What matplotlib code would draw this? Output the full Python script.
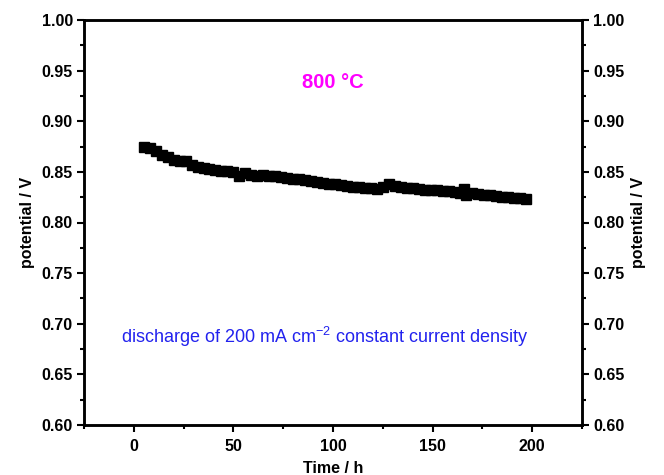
import matplotlib
matplotlib.use("Agg")
import matplotlib.pyplot as plt
from matplotlib.ticker import MultipleLocator

plt.rcParams['font.family'] = ['Liberation Sans', 'DejaVu Sans']

time_h = [5, 8, 11, 14, 17, 20, 23, 26, 29, 32, 35, 38, 41, 44, 47, 50, 53, 56, 59, 62,
          65, 68, 71, 74, 77, 80, 83, 86, 89, 92, 95, 98, 101, 104, 107, 110, 113, 116, 119, 122,
          125, 128, 131, 134, 137, 140, 143, 146, 149, 152, 155, 158, 161, 164, 166, 167, 170, 173, 176, 179,
          182, 185, 188, 191, 194, 197]
potential_v = [0.875, 0.874, 0.871, 0.867, 0.865, 0.862, 0.861, 0.861, 0.857, 0.855, 0.854, 0.853, 0.852, 0.851, 0.851, 0.850, 0.846, 0.849, 0.847, 0.846,
               0.847, 0.846, 0.846, 0.845, 0.844, 0.843, 0.843, 0.842, 0.841, 0.840, 0.839, 0.838, 0.838, 0.837, 0.836, 0.835, 0.835, 0.834, 0.834, 0.833,
               0.835, 0.838, 0.836, 0.835, 0.834, 0.834, 0.833, 0.832, 0.832, 0.832, 0.831, 0.831, 0.830, 0.829, 0.833, 0.827, 0.829, 0.828, 0.827, 0.827,
               0.826, 0.825, 0.825, 0.824, 0.824, 0.823]

x_ticks = [0, 50, 100, 150, 200]
y_ticks = [0.60, 0.65, 0.70, 0.75, 0.80, 0.85, 0.90, 0.95, 1.00]

fig = plt.figure(figsize=(6.64, 4.75), dpi=100)
ax = fig.add_axes([84/664, 1-425/475, (582-84)/664, (425-20)/475])

ax.plot(time_h, potential_v, color='black', lw=2.5, marker='s', ms=7, mec='black', mfc='black')

ax.set_xlim(-25, 225)
ax.set_ylim(0.60, 1.00)
ax.set_xticks(x_ticks)
ax.set_yticks(y_ticks)
ax.xaxis.set_minor_locator(MultipleLocator(25))
ax.yaxis.set_minor_locator(MultipleLocator(0.025))
ax.set_yticklabels([f"{v:.2f}" for v in y_ticks])

for s in ax.spines.values():
    s.set_linewidth(1.8)

ax.tick_params(which='major', direction='out', length=5, width=1.5, labelsize=11.5, pad=3,
               top=False, right=False)
ax.tick_params(axis='x', which='major', pad=5)
ax.tick_params(which='minor', direction='out', length=3, width=1.5, top=False, right=False)
for lbl in ax.get_xticklabels() + ax.get_yticklabels():
    lbl.set_fontweight('bold')

ax2 = ax.twinx()
ax2.set_ylim(0.60, 1.00)
ax2.set_yticks(y_ticks)
ax2.set_yticklabels([f"{v:.2f}" for v in y_ticks])
ax2.yaxis.set_minor_locator(MultipleLocator(0.025))
ax2.tick_params(which='major', direction='out', length=5, width=1.5, labelsize=11.5, pad=3)
ax2.tick_params(which='minor', direction='out', length=3, width=1.5)
for lbl in ax2.get_yticklabels():
    lbl.set_fontweight('bold')
for s in ax2.spines.values():
    s.set_linewidth(1.8)

ax.set_xlabel("Time / h", fontsize=11.5, fontweight='bold', labelpad=5)
ax.set_ylabel("potential / V", fontsize=11.5, fontweight='bold', labelpad=5)
ax2.set_ylabel("potential / V", fontsize=11.5, fontweight='bold', labelpad=5)

ax.text(100, 0.938, "800 °C", color='#ff00ff', fontsize=14.5, fontweight='bold',
        ha='center', va='center')
ax.text(96, 0.687, r"discharge of 200 mA cm$^{\mathregular{-2}}$ constant current density",
        color='#2222ee', fontsize=13, ha='center', va='center')

fig.savefig("out.png", dpi=100)
